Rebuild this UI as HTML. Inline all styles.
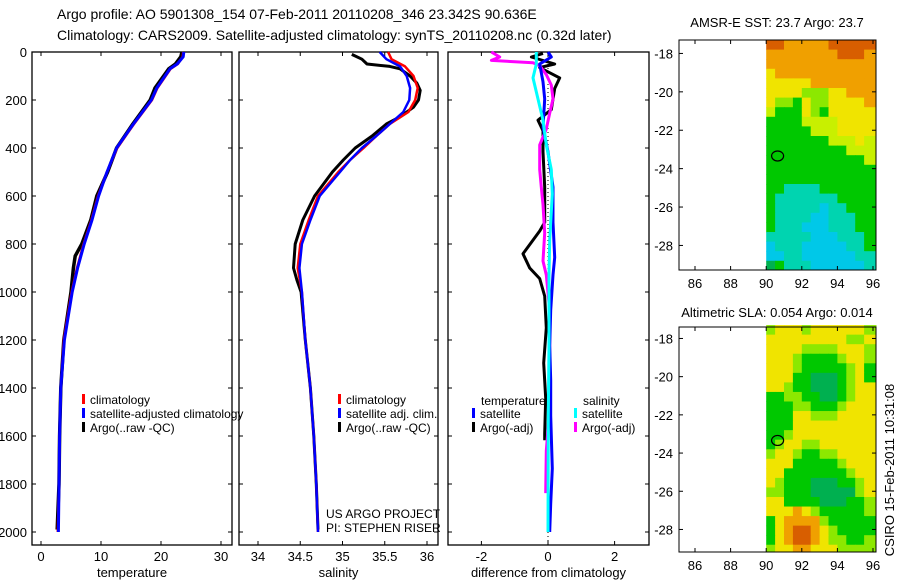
<!DOCTYPE html>
<html><head><meta charset="utf-8"><style>
body{margin:0;background:#fff;}
svg{display:block;font-family:"Liberation Sans",sans-serif;}
</style></head><body>
<svg id="c" width="900" height="580" xmlns="http://www.w3.org/2000/svg">
<text x="57" y="19" font-size="14">Argo profile: AO 5901308_154 07-Feb-2011 20110208_346 23.342S 90.636E</text>
<text x="57" y="40" font-size="14">Climatology: CARS2009. Satellite-adjusted climatology: synTS_20110208.nc (0.32d later)</text>
<text x="777" y="27" font-size="13" text-anchor="middle">AMSR-E SST: 23.7 Argo: 23.7</text>
<text x="777" y="317" font-size="13" text-anchor="middle">Altimetric SLA: 0.054 Argo: 0.014</text>
<text transform="translate(894,470) rotate(-90)" font-size="13" text-anchor="middle">CSIRO 15-Feb-2011 10:31:08</text>
<text x="326" y="518" font-size="12">US ARGO PROJECT</text>
<text x="326" y="532" font-size="12">PI: STEPHEN RISER</text>
</svg>
<script>
// ---- data ----
const tDepth=[0,20,50,70,150,200,300,400,500,600,700,800,900,1000,1200,1400,1600,1800,2000];
const tClim=[23.7,23.6,22.8,21.6,19.4,18.5,15.5,12.7,11.0,9.5,8.4,7.1,6.0,5.1,3.8,3.3,3.1,3.0,2.8];
const tSat=[23.8,23.7,22.7,21.5,19.3,18.4,15.4,12.6,11.0,9.6,8.5,7.2,6.1,5.2,3.9,3.3,3.1,3.0,2.9];
const tArgoDepth=[0,20,50,70,150,200,300,400,500,600,700,800,850,900,1000,1200,1400,1600,1800,1990];
const tArgo=[23.5,23.3,22.4,21.3,19.0,18.2,15.3,12.6,11.1,9.3,8.3,6.8,5.7,5.4,5.0,3.8,3.3,3.1,3.0,2.7];
const sDepth=[0,30,60,100,150,200,250,300,350,400,450,500,600,700,800,900,1000,1200,1400,1600,1800,2000];
const sClim=[35.54,35.58,35.74,35.84,35.89,35.86,35.78,35.56,35.4,35.25,35.09,34.95,34.71,34.6,34.5,34.47,34.52,34.56,34.62,34.66,34.69,34.71];
const sSat=[35.44,35.52,35.68,35.76,35.8,35.79,35.72,35.56,35.4,35.23,35.09,34.97,34.73,34.62,34.52,34.49,34.52,34.56,34.62,34.66,34.69,34.71];
const sArgoDepth=[10,30,50,60,70,100,130,160,200,230,270,300,350,400,450,500,600,700,800,900,950,1000,1200,1400,1600,1800,1990];
const sArgo=[35.11,35.23,35.29,35.56,35.68,35.8,35.88,35.92,35.9,35.84,35.68,35.52,35.35,35.15,35.01,34.88,34.67,34.53,34.44,34.42,34.46,34.51,34.56,34.62,34.66,34.69,34.71];
const dTSatDepth=[0,21,50,124,196,314,416,563,710,856,929,1076,1223,1369,1516,1736,1882,2000];
const dTSat=[0,0.1,-0.25,-0.15,-0.1,-0.15,0,0.15,0.15,0.2,0.15,0.08,0.05,0.08,0.08,0.13,0.08,0.05];
const dTArgoDepth=[6,21,50,65,108,152,240,284,328,416,563,710,746,841,900,944,1017,1149,1296,1443,1589,1618];
const dTArgo=[-0.15,-0.5,0.2,-0.25,0.35,0.2,0.1,-0.3,-0.15,-0.15,-0.1,-0.1,-0.25,-0.75,-0.55,-0.25,-0.1,-0.05,-0.13,-0.07,-0.1,-0.1];
const dSSatDepth=[0,50,108,196,284,387,490,592,783,929,1223,1516,2000];
const dSSat=[-0.35,-0.35,-0.45,-0.3,-0.15,-0.05,0.1,0.13,0.05,0.03,0.03,0.01,0];
const dSArgoDepth=[0,21,35,45,57,94,138,196,255,321,387,490,563,636,754,871,929,1076,1223,1369,1516,1662,1838];
const dSArgo=[-1.7,-1.45,-1.7,-0.45,-0.25,-0.05,0.1,0.15,0.05,-0.05,-0.25,-0.25,-0.2,-0.15,-0.1,-0.15,-0.05,0.05,0.05,0.05,0.03,-0.05,-0.07];
const depthTicks=[0,200,400,600,800,1000,1200,1400,1600,1800,2000];
const tTicks=[0,10,20,30];
const sTicks=[34,34.5,35,35.5,36];
const dTicks=[-2,0,2];
const lonTicks=[86,88,90,92,94,96];
const latTicks=[-18,-20,-22,-24,-26,-28];
const sstGrid=["OOoooooOOOOO","ooooooooOOOo","oooooooooooo","Yooooooooooo","YYYYYoooooooo","YYYYLLLYYooo","YLLGYLLYYYYo","yGGGYLGYYYYY","GGGGyyyyYYYY","GGGGGyyyYYYY","GGGGGGGyyyYy","GGGGGGGGGyyy","GGGGGGGGGGGy","GGGGGGGGGGGG","GGGGGGGGGGGG","GGTTTTGGGGGG","GTTTTTTTGGGG","GTTTTTCTTGGG","GTTTTCCTTTGG","GTTTCCCTTTGG","TTTTTCCCTTTG","CTTTCCCCCTTG","CCTTCCCCCCTT","gGTTTCCCCCCT"];
const slaGrid=["LYYYLYYYYYYL","YYYYYYYYYLLY","YYYYLLLLYYYL","YYYLGGGGLYYL","YYYLGGGGGLYG","YYYGGgggGLYG","YYLGGgggGLYY","GGLLGGggGLYY","GGGLLGGGLYYY","GGGYYLLLYYYY","GGGYYYYYYYYY","GGLYYYYYYYYY","GLYYLLYYYYYY","LYYLGGLLYYYY","YYYGGGGGLYYY","YYGGGGGGGLYY","YLGGGgggGGLY","LLGGGgggggLY","YYGGGGgggGGL","YYYoYLGGGGGL","GYooooLGGGGG","GYoOOoYLGGGG","GYoOOoYLLGGL","LYYooYYYLLLL"];
const argoLon=90.64, argoLat=-23.34;
// ---- drawing ----
const svg=document.getElementById('c');const NS='http://www.w3.org/2000/svg';
function mk(t,a,p){const e=document.createElementNS(NS,t);for(const k in a)e.setAttribute(k,a[k]);(p||svg).appendChild(e);return e;}
const yD=d=>52+d*0.24;
const xT=v=>41+v*6, xS=v=>258+(v-34)*84.5, xDf=v=>548+v*33.3;
const panels=[{x0:32,x1:232,xf:xT,ticks:tTicks,lab:'temperature',n:'temperature'},{x0:239,x1:438,xf:xS,ticks:sTicks,lab:'salinity',n:'salinity'},{x0:448,x1:649,xf:xDf,ticks:dTicks,lab:'difference from climatology',n:'difference'}];
panels.forEach((p,pi)=>{
  const g=mk('g',{});
  
  
  const r=mk('rect',{x:p.x0,y:52,width:p.x1-p.x0,height:493,fill:'none',stroke:'#000','stroke-width':1.3},g);
  
  
  depthTicks.forEach(d=>{const y=yD(d);
    mk('line',{x1:p.x0,x2:p.x0+4,y1:y,y2:y,stroke:'#000'},g);mk('line',{x1:p.x1,x2:p.x1-4,y1:y,y2:y,stroke:'#000'},g);
    if(pi==0){const t=mk('text',{x:27,y:y+5,'font-size':13,'text-anchor':'end'},g);t.textContent=d;
      
      }
  });
  p.ticks.forEach(v=>{const x=p.xf(v);
    mk('line',{x1:x,x2:x,y1:545,y2:541,stroke:'#000'},g);mk('line',{x1:x,x2:x,y1:52,y2:56,stroke:'#000'},g);
    const t=mk('text',{x:x,y:561,'font-size':13,'text-anchor':'middle'},g);t.textContent=v;
    
    });
  const t=mk('text',{x:(p.x0+p.x1)/2,y:577,'font-size':13,'text-anchor':'middle'},g);t.textContent=p.lab;
  
  
});
function line(ds,vs,xf,col,w,name){const pts=ds.map((d,i)=>xf(vs[i]).toFixed(1)+','+yD(d).toFixed(1)).join(' ');
  const e=mk('polyline',{points:pts,fill:'none',stroke:col,'stroke-width':w,'stroke-linejoin':'round'});
  
  }
line(tArgoDepth,tArgo,xT,'#000',3.5,'temperature-argo-line');
line(tDepth,tClim,xT,'#f00',2.5,'temperature-climatology-line');
line(tDepth,tSat,xT,'#00f',3,'temperature-satellite-line');
line(sArgoDepth,sArgo,xS,'#000',3,'salinity-argo-line');
line(sDepth,sClim,xS,'#f00',2.5,'salinity-climatology-line');
line(sDepth,sSat,xS,'#00f',2.5,'salinity-satellite-line');
const zl=mk('line',{x1:xDf(0),x2:xDf(0),y1:52,y2:545,stroke:'#000','stroke-dasharray':'1,3'});


line(dTArgoDepth,dTArgo,xDf,'#000',3,'diff-temp-argo-line');
line(dSArgoDepth,dSArgo,xDf,'#f0f',3,'diff-sal-argo-line');
line(dTSatDepth,dTSat,xDf,'#00f',3,'diff-temp-satellite-line');
line(dSSatDepth,dSSat,xDf,'#0ff',3,'diff-sal-satellite-line');
function leg(x,y,col,txt,name){const r=mk('rect',{x:x,y:y-10,width:3,height:10,fill:col});
  
  
  const t=mk('text',{x:x+8,y:y,'font-size':12});t.textContent=txt;
  
  }
leg(82,404,'#f00','climatology','legend-climatology');
leg(82,418,'#00f','satellite-adjusted climatology','legend-satellite-adjusted');
leg(82,432,'#000','Argo(..raw -QC)','legend-argo');
leg(338,404,'#f00','climatology','legend-sal-climatology');
leg(338,418,'#00f','satellite adj. clim.','legend-sal-satellite');
leg(338,432,'#000','Argo(..raw -QC)','legend-sal-argo');
let tt=mk('text',{x:481,y:405,'font-size':12});tt.textContent='temperature';


tt=mk('text',{x:583,y:405,'font-size':12});tt.textContent='salinity';


leg(472,418,'#00f','satellite','legend-diff-temp-satellite');
leg(472,432,'#000','Argo(-adj)','legend-diff-temp-argo');
leg(574,418,'#0ff','satellite','legend-diff-sal-satellite');
leg(574,432,'#f0f','Argo(-adj)','legend-diff-sal-argo');
// maps
const pal={O:'#d85e00',o:'#f0a000',Y:'#f0e400',y:'#c8f000',L:'#8ce800',G:'#00c800',g:'#00b050',T:'#00d4b0',C:'#00c8e8'};
const lonX=l=>695+(l-86)*17.8;
function map(top,bot,latTop,ppd,grid,name){
  const latY=la=>top+(latTop-la)*ppd;
  const g=mk('g',{});
  
  
  grid.forEach((row,r)=>{for(let c=0;c<12;c++){
    const x0=lonX(90+c*0.5),x1=c==11?876:lonX(90.5+c*0.5);
    const y0=latY(-17.3-r*0.5),y1=r==grid.length-1?bot:latY(-17.8-r*0.5);
    const e=mk('rect',{x:x0,y:y0,width:x1-x0+0.5,height:y1-y0+0.5,fill:pal[row[c]]},g);
    
    }});
  mk('rect',{x:679,y:top,width:197,height:bot-top,fill:'none',stroke:'#000'},g);
  lonTicks.forEach(l=>{const x=lonX(l);mk('line',{x1:x,x2:x,y1:bot,y2:bot-4,stroke:'#000'},g);mk('line',{x1:x,x2:x,y1:top,y2:top+4,stroke:'#000'},g);
    const t=mk('text',{x:x,y:bot+18,'font-size':13,'text-anchor':'middle'},g);t.textContent=l;
    
    });
  latTicks.forEach(la=>{const y=latY(la);mk('line',{x1:679,x2:683,y1:y,y2:y,stroke:'#000'},g);mk('line',{x1:876,x2:872,y1:y,y2:y,stroke:'#000'},g);
    const t=mk('text',{x:673,y:y+5,'font-size':13,'text-anchor':'end'},g);t.textContent=la;
    
    });
  const c=mk('ellipse',{cx:lonX(argoLon),cy:latY(argoLat),rx:6,ry:5,fill:'none',stroke:'#000','stroke-width':1.2},g);
  
  
}
map(40,270,-17.3,19.2,sstGrid,'sst-map');
map(327,552,-17.4,19.1,slaGrid,'sla-map');
</script>
</body></html>
